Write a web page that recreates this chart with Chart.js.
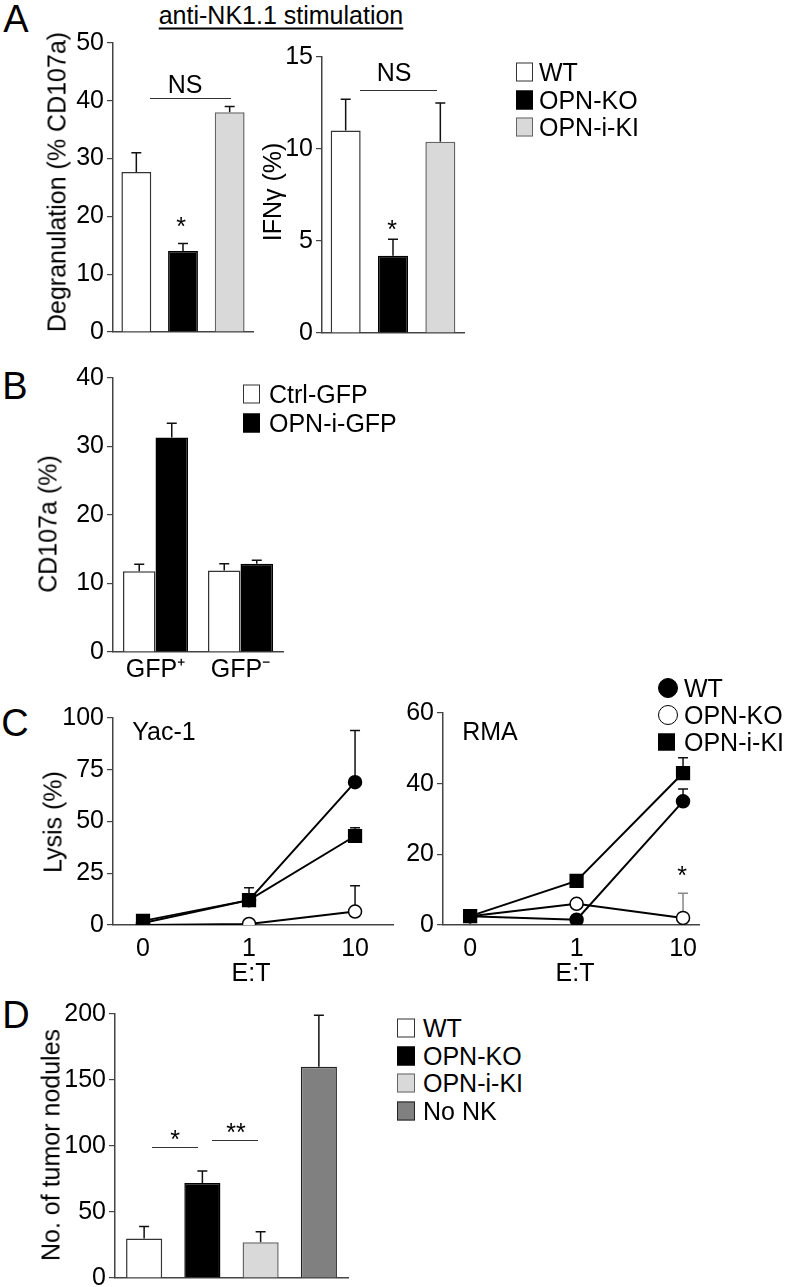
<!DOCTYPE html>
<html>
<head>
<meta charset="utf-8">
<script src="https://cdn.jsdelivr.net/npm/chart.js@4.4.0/dist/chart.umd.min.js"></script>
<style>
body { margin: 0; background: #fff; }
#fig { position: relative; width: 786px; height: 1287px; overflow: hidden; font-family: "Liberation Sans", Arial, sans-serif; color: #000; }
#fig canvas { position: absolute; }
.t { position: absolute; transform: translate(-50%, -50%); white-space: nowrap; line-height: 1; font-size: 25px; }
.l { position: absolute; transform: translateY(-50%); white-space: nowrap; line-height: 1; font-size: 25px; }
.v { position: absolute; transform: translate(-50%, -50%) rotate(-90deg); white-space: nowrap; line-height: 1; font-size: 25px; }
.hl { position: absolute; height: 0; border-top: 1.5px solid #333; }
.mk { position: absolute; box-sizing: border-box; transform: translateY(-50%); }
</style>
</head>
<body>
<div id="fig"></div>
<script>
// panel A: anti-NK1.1 stimulation
const groupsA = ["WT", "OPN-KO", "OPN-i-KI"];
const degranA = [27.7, 14, 38];
const degranErrA = [3.3, 1.3, 1.0];
const ifngA = [11, 4.2, 10.4];
const ifngErrA = [1.7, 0.9, 2.1];

// panel B
const gfpLabels = ["GFP\u207A", "GFP\u207B"];
const seriesB = ["Ctrl-GFP", "OPN-i-GFP"];
const ctrlGfp = [11.8, 11.9];
const ctrlGfpErr = [1.0, 1.0];
const opnGfp = [31.3, 12.9];
const opnGfpErr = [2.1, 0.5];

// panel C: lysis vs E:T
const etLabels = ["0", "1", "10"];
const seriesC = ["WT", "OPN-KO", "OPN-i-KI"];
const yacWT = [1, 12, 69];
const yacWTErr = [0, 0, 25];
const yacKO = [0, 0.5, 6.5];
const yacKOErr = [0, 0, 12.5];
const yacKI = [2, 12, 43];
const yacKIErr = [0, 6, 4];
const rmaWT = [2.5, 1.5, 35];
const rmaWTErr = [1, 0, 3.5];
const rmaKO = [2.5, 6, 2];
const rmaKOErr = [1.5, 1, 7];
const rmaKI = [2.5, 12.5, 43];
const rmaKIErr = [1, 0, 4.3];

// panel D
const groupsD = ["WT", "OPN-KO", "OPN-i-KI", "No NK"];
const nodulesD = [30, 72, 27, 160];
const nodulesErrD = [9, 9, 8, 39];

const FONT = "'Liberation Sans', Arial, sans-serif";
const fills = ["#ffffff", "#000000", "#d9d9d9", "#808080"];
const edges = ["#333333", "#000000", "#666666", "#222222"];

Chart.defaults.font.family = FONT;
Chart.defaults.color = "#000";

const fig = document.getElementById("fig");

// error bars (upper half only) drawn under the marks
const errorBars = {
    id: "errorBars",
    beforeDatasetsDraw(chart) {
        const ctx = chart.ctx;
        const y = chart.scales.y;
        chart.data.datasets.forEach((ds, i) => {
            if (!ds.errors) return;
            const meta = chart.getDatasetMeta(i);
            meta.data.forEach((el, j) => {
                const e = ds.errors[j];
                if (!e) return;
                const d = ds.data[j];
                const v = typeof d === "object" ? d.y : d;
                const top = y.getPixelForValue(v + e);
                ctx.save();
                ctx.strokeStyle = (ds.errorColors && ds.errorColors[j]) || "#111";
                ctx.lineWidth = 1.5;
                ctx.beginPath();
                ctx.moveTo(el.x, y.getPixelForValue(v));
                ctx.lineTo(el.x, top);
                ctx.moveTo(el.x - 5, top);
                ctx.lineTo(el.x + 5, top);
                ctx.stroke();
                ctx.restore();
            });
        });
    }
};

function txt(s, x, y, cls, extra) {
    const d = document.createElement("div");
    d.className = cls;
    d.textContent = s;
    d.style.left = x + "px";
    d.style.top = y + "px";
    Object.assign(d.style, extra || {});
    fig.appendChild(d);
    return d;
}

function hline(x1, x2, y) {
    const d = document.createElement("div");
    d.className = "hl";
    d.style.left = x1 + "px";
    d.style.top = y + "px";
    d.style.width = (x2 - x1) + "px";
    fig.appendChild(d);
}

function marker(x, y, w, h, fill, border, round) {
    const d = document.createElement("div");
    d.className = "mk";
    Object.assign(d.style, {
        left: x + "px", top: y + "px", width: w + "px", height: h + "px",
        background: fill, border: "1.5px solid " + border,
        borderRadius: round ? "50%" : "0"
    });
    fig.appendChild(d);
}

// canvas placed so that the plot area lands on area {l, t, r, b}
function mount(area, padL, padB) {
    const padT = 20, padR = 12;
    const c = document.createElement("canvas");
    const w = area.r - area.l + padL + padR;
    const h = area.b - area.t + padT + padB;
    c.width = w;
    c.height = h;
    c.style.left = (area.l - padL) + "px";
    c.style.top = (area.t - padT) + "px";
    c.style.width = w + "px";
    c.style.height = h + "px";
    fig.appendChild(c);
    return { ctx: c.getContext("2d"), padL, padT, padR, padB };
}

function yAxis(max, step, width) {
    return {
        min: 0, max: max,
        ticks: { stepSize: step, color: "#000", font: { size: 25 }, padding: 3 },
        grid: { drawOnChartArea: false, drawTicks: true, tickLength: 6, color: "#444", lineWidth: 1.2 },
        border: { display: true, color: "#444", width: 1.5 },
        afterFit(s) { s.width = width; }
    };
}

function xCat(height, showLabels, pad) {
    return {
        ticks: { display: showLabels, color: "#000", font: { size: 25 }, padding: pad || 3, maxRotation: 0 },
        grid: { display: false, drawTicks: false },
        border: { display: true, color: "#444", width: 1.5 },
        afterFit(s) { s.height = height; }
    };
}

function barChart(area, labels, datasets, yMax, yStep, showX) {
    const m = mount(area, 70, 40);
    return new Chart(m.ctx, {
        type: "bar",
        data: { labels: labels, datasets: datasets },
        options: {
            responsive: false,
            animation: false,
            layout: { padding: { top: m.padT, right: m.padR, left: 0, bottom: 0 } },
            plugins: { legend: { display: false }, tooltip: { enabled: false } },
            scales: { x: xCat(m.padB, showX, 3), y: yAxis(yMax, yStep, m.padL) }
        },
        plugins: [errorBars]
    });
}

function lineDs(label, vals, errs, shape, r, fill, errColors) {
    return {
        label: label,
        data: etLabels.map((_, i) => ({ x: i, y: vals[i] })),
        errors: errs,
        errorColors: errColors,
        borderColor: "#000",
        borderWidth: 2,
        pointStyle: shape,
        pointRadius: r,
        pointBackgroundColor: fill,
        pointBorderColor: "#000",
        pointBorderWidth: 1.5,
        tension: 0
    };
}

function lineChart(area, xMin, xMax, datasets, yMax, yStep) {
    const m = mount(area, 70, 45);
    return new Chart(m.ctx, {
        type: "line",
        data: { datasets: datasets },
        options: {
            responsive: false,
            animation: false,
            layout: { padding: { top: m.padT, right: m.padR, left: 0, bottom: 0 } },
            plugins: { legend: { display: false }, tooltip: { enabled: false } },
            scales: {
                x: {
                    type: "linear", min: xMin, max: xMax,
                    afterBuildTicks(s) { s.ticks = etLabels.map((_, i) => ({ value: i })); },
                    ticks: { color: "#000", font: { size: 25 }, padding: 9, callback: v => etLabels[v] },
                    grid: { display: false, drawTicks: false },
                    border: { display: true, color: "#444", width: 1.5 },
                    afterFit(s) { s.height = m.padB; }
                },
                y: yAxis(yMax, yStep, m.padL)
            }
        },
        plugins: [errorBars]
    });
}

// ---------- panel A ----------
txt("A", 16, 19, "t", { fontSize: "38px" });
txt("anti-NK1.1 stimulation", 281, 15, "t", { textDecoration: "underline", textUnderlineOffset: "4px" });

barChart({ l: 113, t: 43, r: 253, b: 332 }, groupsA, [{
    data: degranA, errors: degranErrA,
    backgroundColor: fills.slice(0, 3), borderColor: edges.slice(0, 3), borderWidth: 1.5,
    categoryPercentage: 1, barPercentage: 0.64
}], 50, 10, false);

barChart({ l: 322, t: 57, r: 464, b: 333 }, groupsA, [{
    data: ifngA, errors: ifngErrA,
    backgroundColor: fills.slice(0, 3), borderColor: edges.slice(0, 3), borderWidth: 1.5,
    categoryPercentage: 1, barPercentage: 0.634
}], 15, 5, false);

txt("Degranulation (% CD107a)", 57, 182, "v");
txt("IFN\u03B3 (%)", 272, 192, "v");
txt("NS", 185, 84, "t");
hline(150, 231, 98);
txt("NS", 394, 72, "t");
hline(360, 437, 90);
txt("*", 181, 226, "t");
txt("*", 392, 229, "t");

groupsA.forEach((g, i) => {
    const y = 72 + i * 27.5;
    marker(516, y, 17, 19, fills[i], edges[i], false);
    txt(g, 539, y, "l");
});

// ---------- panel B ----------
txt("B", 15, 386, "t", { fontSize: "38px" });
barChart({ l: 113, t: 378, r: 283, b: 652 }, gfpLabels, [
    { label: seriesB[0], data: ctrlGfp, errors: ctrlGfpErr, backgroundColor: "#fff", borderColor: "#333",
      borderWidth: 1.5, categoryPercentage: 0.765, barPercentage: 1 },
    { label: seriesB[1], data: opnGfp, errors: opnGfpErr, backgroundColor: "#000", borderColor: "#000",
      borderWidth: 1.5, categoryPercentage: 0.765, barPercentage: 1 }
], 40, 10, true);
txt("CD107a (%)", 48, 524, "v");
seriesB.forEach((s, i) => {
    const y = 394 + i * 28.5;
    marker(243, y, 17, 19, fills[i], edges[i], false);
    txt(s, 269, y, "l");
});

// ---------- panel C ----------
txt("C", 15, 723, "t", { fontSize: "38px" });
lineChart({ l: 113, t: 718, r: 393, b: 925 }, -0.283, 2.358, [
    lineDs(seriesC[2], yacKI, yacKIErr, "rect", 9, "#000"),
    lineDs(seriesC[1], yacKO, yacKOErr, "circle", 6.5, "#fff"),
    lineDs(seriesC[0], yacWT, yacWTErr, "circle", 6.5, "#000")
], 100, 25);
lineChart({ l: 443, t: 713, r: 699, b: 925 }, -0.255, 2.15, [
    lineDs(seriesC[0], rmaWT, rmaWTErr, "circle", 6.5, "#000"),
    lineDs(seriesC[2], rmaKI, rmaKIErr, "rect", 9, "#000"),
    lineDs(seriesC[1], rmaKO, rmaKOErr, "circle", 6.5, "#fff", ["#111", "#111", "#888"])
], 60, 20);
txt("Lysis (%)", 53, 822, "v");
txt("Yac-1", 164, 731, "t");
txt("RMA", 490, 731, "t");
txt("E:T", 251, 972, "t");
txt("E:T", 575, 972, "t");
txt("*", 682, 875, "t");
[["#000", true], ["#fff", true], ["#000", false]].forEach((st, i) => {
    const y = 688 + i * 27;
    marker(658, y, st[1] ? 20 : 17, st[1] ? 20 : 17, st[0], "#000", st[1]);
    txt(seriesC[i], 684, y, "l");
});

// ---------- panel D ----------
txt("D", 16, 1015, "t", { fontSize: "38px" });
barChart({ l: 115, t: 1014, r: 348, b: 1278 }, groupsD, [{
    data: nodulesD, errors: nodulesErrD,
    backgroundColor: fills, borderColor: edges, borderWidth: 1.5,
    categoryPercentage: 1, barPercentage: 0.62
}], 200, 50, false);
txt("No. of tumor nodules", 51, 1145, "v");
hline(152, 198, 1147);
txt("*", 175, 1139, "t");
hline(212, 258, 1140);
txt("**", 236, 1132, "t");
groupsD.forEach((g, i) => {
    const y = 1028 + i * 27.5;
    marker(397, y, 18, 19, fills[i], edges[i], false);
    txt(g, 423, y, "l");
});
</script>
</body>
</html>
